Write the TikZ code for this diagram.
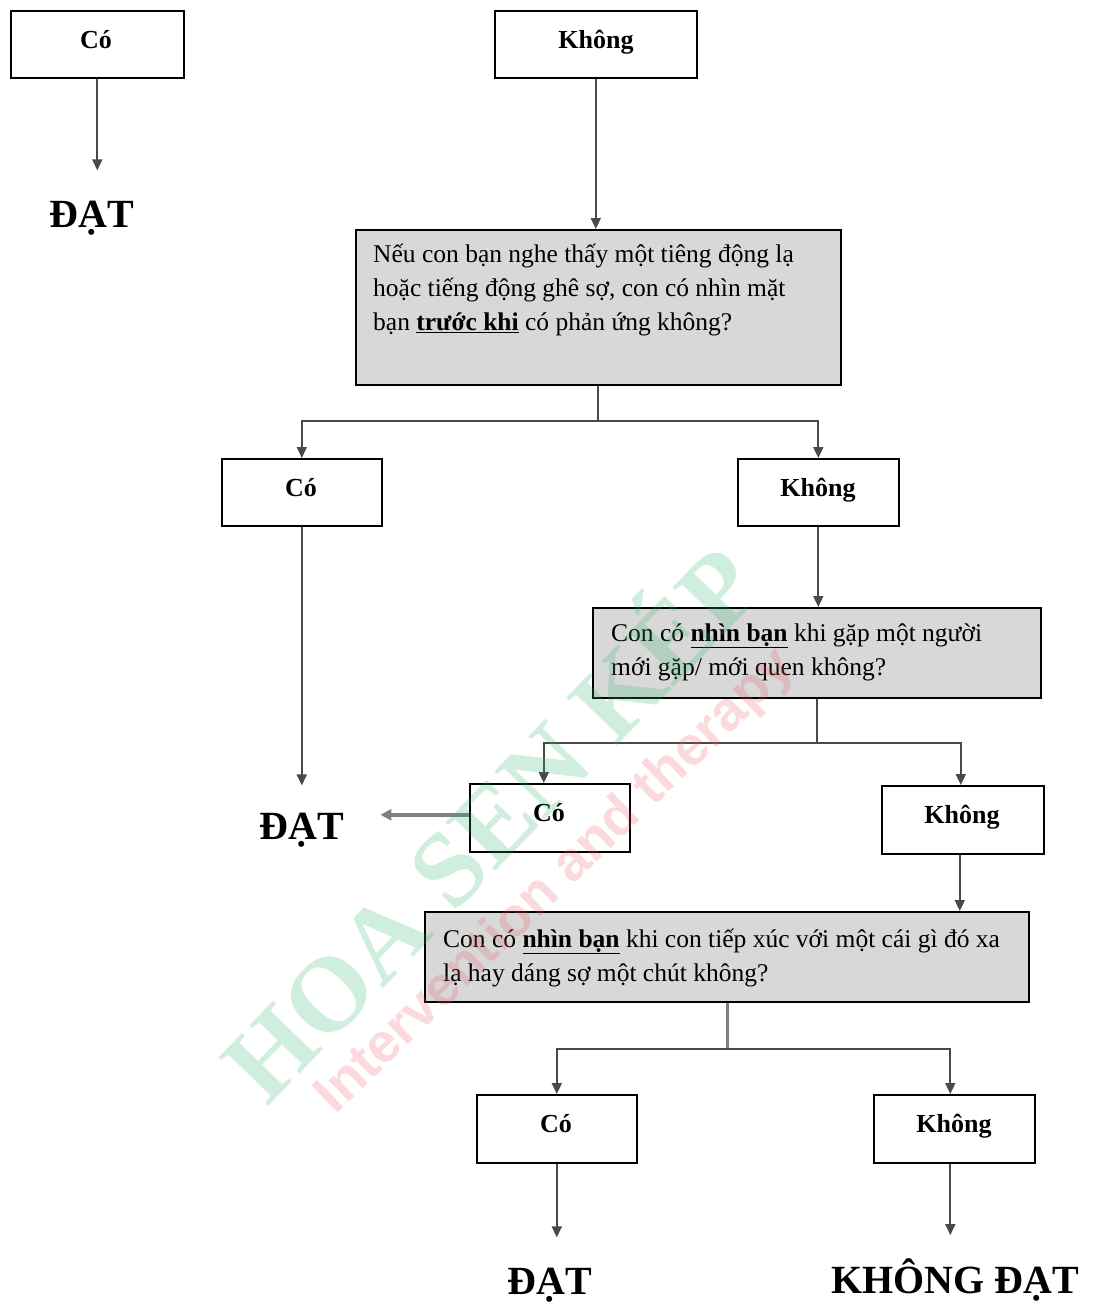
\documentclass[tikz,border=0pt]{standalone}
\usepackage{fontspec}
\setmainfont{Liberation Serif}
\newfontfamily\wmsans{Liberation Sans}
\usetikzlibrary{arrows.meta,calc}
\definecolor{qgray}{HTML}{D8D8D8}
\definecolor{lgray}{HTML}{4A4A4A}
\definecolor{wmgreen}{HTML}{2DB36B}
\definecolor{wmpink}{HTML}{EE5566}
\begin{document}
\begin{tikzpicture}[x=1pt,y=-1pt,
  box/.style={draw=black,line width=1.6pt,fill=white,anchor=north west,inner sep=0pt},
  qbox/.style={draw=black,line width=1.6pt,fill=qgray,anchor=north west,inner sep=0pt},
  lab/.style={font=\fontsize{26}{30}\selectfont\bfseries,anchor=base,inner sep=0pt},
  qtext/.style={font=\fontsize{25.5}{34}\selectfont,anchor=base west,inner sep=0pt},
  res/.style={font=\fontsize{40}{44}\selectfont\bfseries,anchor=base,inner sep=0pt},
  ln/.style={draw=lgray,line width=1.8pt},
  arr/.style={ln,-{Triangle[length=11pt,width=10pt]}},
]
\useasboundingbox (0,0) rectangle (1093,1304);
\fill[white] (0,0) rectangle (1093,1304);

% top row
\node[box,minimum width=173pt,minimum height=67pt] (co1) at (10,10) {};
\node[lab] (co1t) at (96,48) {Có};
\node[box,minimum width=202pt,minimum height=67pt] (kh1) at (494,10) {};
\node[lab] (kh1t) at (596,48) {Không};
\node[res] (dat1) at (92,227) {ĐẠT};

% question 1
\node[qbox,minimum width=485pt,minimum height=155pt] (q1) at (355,229) {};
\node[qtext] (q1t) at (373,262) {\parbox[t]{465pt}{Nếu con bạn nghe thấy một tiêng động lạ\\
hoặc tiếng động ghê sợ, con có nhìn mặt\\
bạn \underline{\textbf{trước khi}} có phản ứng không?}};

\node[box,minimum width=160pt,minimum height=67pt] (co2) at (221,458) {};
\node[lab] (co2t) at (301,496) {Có};
\node[box,minimum width=161pt,minimum height=67pt] (kh2) at (737,458) {};
\node[lab] (kh2t) at (818,496) {Không};

% question 2
\node[qbox,minimum width=448pt,minimum height=90pt] (q2) at (592,607) {};
\node[qtext] (q2t) at (611,641) {\parbox[t]{430pt}{Con có \underline{\textbf{nhìn bạn}} khi gặp một người\\
mới gặp/ mới quen không?}};

\node[box,minimum width=160pt,minimum height=68pt] (co3) at (469,783) {};
\node[lab] (co3t) at (549,821) {Có};
\node[box,minimum width=162pt,minimum height=68pt] (kh3) at (881,785) {};
\node[lab] (kh3t) at (962,823) {Không};
\node[res] (dat2) at (302,839) {ĐẠT};

% question 3
\node[qbox,minimum width=604pt,minimum height=90pt] (q3) at (424,911) {};
\node[qtext] (q3t) at (443,947) {\parbox[t]{595pt}{Con có \underline{\textbf{nhìn bạn}} khi con tiếp xúc với một cái gì đó xa\\
lạ hay dáng sợ một chút không?}};

\node[box,minimum width=160pt,minimum height=68pt] (co4) at (476,1094) {};
\node[lab] (co4t) at (556,1132) {Có};
\node[box,minimum width=161pt,minimum height=68pt] (kh4) at (873,1094) {};
\node[lab] (kh4t) at (954,1132) {Không};
\node[res] (dat3) at (550,1294) {ĐẠT};
\node[res] (kdat) at (955,1293) {KHÔNG ĐẠT};

% connectors
\draw[arr,shorten >=30pt] (co1.south) -- (co1.south |- dat1.north);
\draw[arr] (kh1.south) -- (kh1.south |- q1.north);

\coordinate (j1) at ($(q1.south)+(0,35)$);
\draw[ln] (q1.south) -- (j1);
\draw[arr] (j1) -| (co2.north);
\draw[arr] (j1) -| (kh2.north);

\draw[arr,shorten >=27pt] (co2.south) -- (co2.south |- dat2.north);
\draw[arr] (kh2.south) -- (kh2.south |- q2.north);

\coordinate (j2) at ($(q2.south)+(0,44)$);
\draw[ln] (q2.south) -- (j2);
\draw[arr] (j2) -| ([xshift=-6pt]co3.north);
\draw[arr] (j2) -| ([xshift=-2pt]kh3.north);

\draw[ln,draw=gray,line width=3.5pt,-{Triangle[length=11pt,width=11pt]},shorten >=36pt] ([yshift=3pt]co3.west) -- ([yshift=3pt]co3.west -| dat2.east);
\draw[arr] ([xshift=-3pt]kh3.south) -- ([xshift=-3pt]kh3.south |- q3.north);

\coordinate (j3) at ($(q3.south)+(1,46)$);
\draw[ln,draw=gray,line width=3.2pt] ([xshift=1pt]q3.south) -- (j3);
\draw[arr] (j3) -| (co4.north);
\draw[arr] (j3) -| ([xshift=-4pt]kh4.north);

\draw[arr,shorten >=30pt] (co4.south) -- (co4.south |- dat3.north);
\draw[arr,shorten >=23pt] ([xshift=-4pt]kh4.south) -- ([xshift=-4pt]kh4.south |- kdat.north);

% watermark
\node[rotate=46,text=wmgreen,opacity=0.22,font=\fontsize{106}{106}\selectfont\bfseries] (wm1) at (485,818) {HOA SEN KÉP};
\node[rotate=44,text=wmpink,opacity=0.22,font=\wmsans\fontsize{55}{55}\selectfont\bfseries] (wm2) at (556,882) {Intervention and therapy};
\end{tikzpicture}
\end{document}
